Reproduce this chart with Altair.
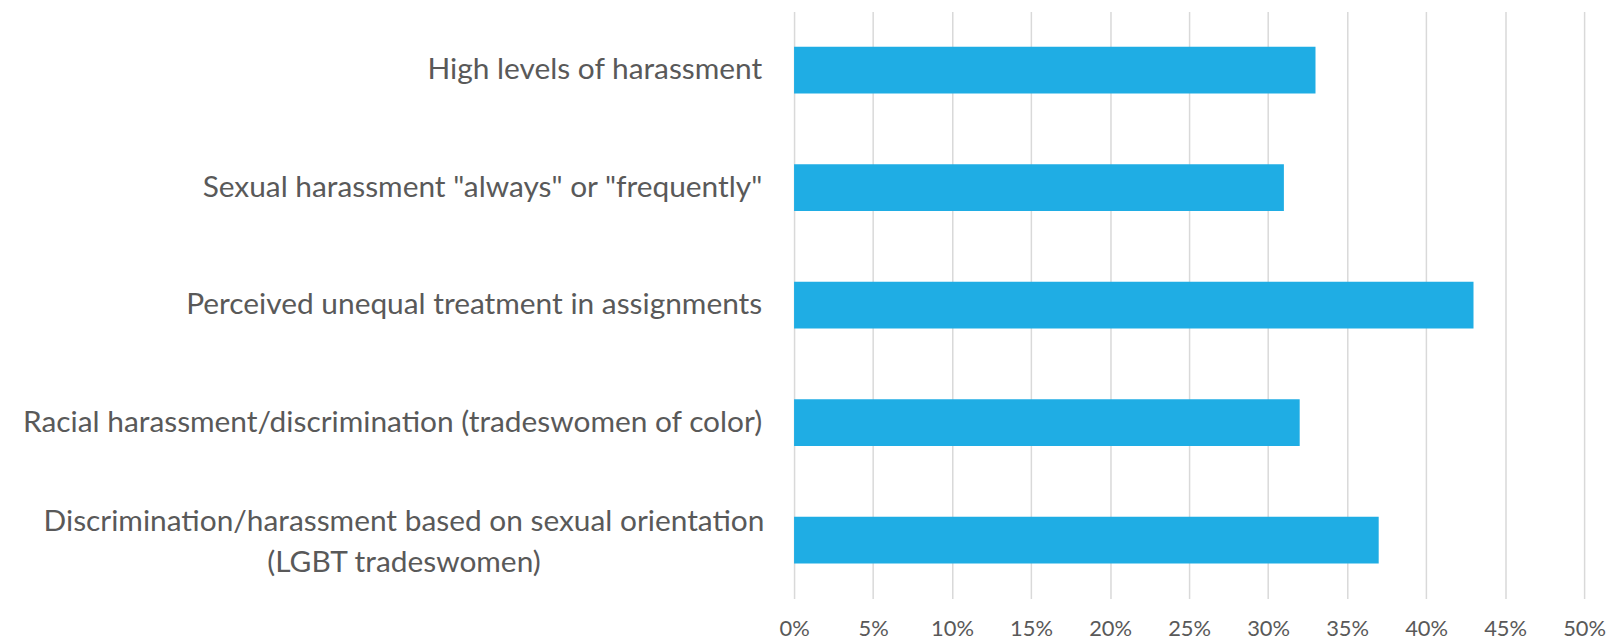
import altair as alt
import pandas as pd

categories = [
    "High levels of harassment",
    'Sexual harassment "always" or "frequently"',
    "Perceived unequal treatment in assignments",
    "Racial harassment/discrimination (tradeswomen of color)",
    "Discrimination/harassment based on sexual orientation (LGBT tradeswomen)",
]
values = [0.33, 0.31, 0.43, 0.32, 0.37]
label_lines = [
    ["High levels of harassment"],
    ['Sexual harassment "always" or "frequently"'],
    ["Perceived unequal treatment in assignments"],
    ["Racial harassment/discrimination (tradeswomen of color)"],
    ["Discrimination/harassment based on sexual orientation", "(LGBT tradeswomen)"],
]
x_ticks = [0, 0.05, 0.10, 0.15, 0.20, 0.25, 0.30, 0.35, 0.40, 0.45, 0.50]

df = pd.DataFrame({
    "category": categories,
    "value": values,
    "label": ["\n".join(l) for l in label_lines],
    "lines": [len(l) for l in label_lines],
})

FONT = "Lato"
TEXT = "#595959"

y_enc = alt.Y("category:N", sort=categories, axis=None,
              scale=alt.Scale(paddingInner=0.603, paddingOuter=0.3))

bars = alt.Chart(df).mark_bar(color="#1FADE4").encode(
    x=alt.X("value:Q",
            scale=alt.Scale(domain=[0, 0.5], nice=False),
            axis=alt.Axis(values=x_ticks, format=".0%", grid=True,
                          gridColor="#D9D9D9", gridWidth=1.5,
                          domain=False, ticks=False, tickSize=0,
                          labelFlush=False,
                          labelFont=FONT, labelFontSize=22,
                          labelColor=TEXT, labelPadding=20, title=None)),
    y=y_enc,
)

single = alt.Chart(df).transform_filter("datum.lines == 1").mark_text(
    align="right", baseline="middle", font=FONT, fontSize=30, color=TEXT
).encode(y=y_enc, x=alt.value(-32), text="label:N")

multi = alt.Chart(df).transform_filter("datum.lines > 1").mark_text(
    align="center", baseline="middle", font=FONT, fontSize=30, color=TEXT,
    lineBreak="\n", lineHeight=41, dy=-18
).encode(y=y_enc, x=alt.value(-392), text="label:N")

chart = alt.layer(bars, single, multi).properties(
    width=794, height=590,
    autosize=alt.AutoSizeParams(type="none"),
    padding={"left": 790, "top": 2, "right": 22, "bottom": 40},
).configure_view(stroke=None)

chart.save("out.html", embed_options={"renderer": "svg", "actions": False})
